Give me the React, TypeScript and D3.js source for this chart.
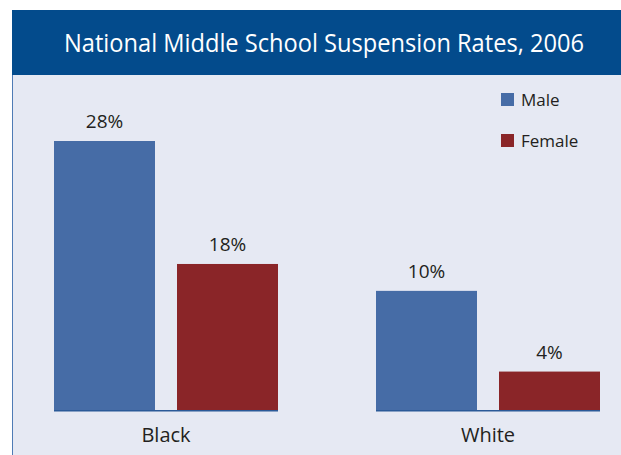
import React from "react";
import * as d3 from "d3";

const groups = ["Black", "White"];
const series = ["Male", "Female"];
// bar heights as drawn in the reference (percent)
const maleValues = [28, 12.4];
const femaleValues = [15.2, 4];
// printed labels
const maleLabels = ["28%", "10%"];
const femaleLabels = ["18%", "4%"];
const colors = ["#466ca6", "#8a2528"];
const title = "National Middle School Suspension Rates, 2006";

const W = 621;
const H = 455;

export default function App() {
  const font = "'Open Sans', 'Noto Sans', sans-serif";
  const x0 = d3.scaleBand<string>().domain(groups).range([54, 600]).paddingInner(98 / 322).paddingOuter(0);
  const x1 = d3.scaleBand<string>().domain(series).range([0, x0.bandwidth()]).paddingInner(22 / 123).paddingOuter(0);
  const y = d3.scaleLinear().domain([0, 28]).range([410, 141]);
  const color = d3.scaleOrdinal<string, string>().domain(series).range(colors);

  const rows = groups.map((g, i) => ({
    group: g,
    bars: [
      { s: "Male", v: maleValues[i], label: maleLabels[i] },
      { s: "Female", v: femaleValues[i], label: femaleLabels[i] },
    ],
  }));

  return (
    <svg width={W} height={H} style={{ position: "absolute", left: 0, top: 0 }} fontFamily={font}>
      <rect x={0} y={0} width={W} height={H} fill="#ffffff" />
      {/* panel */}
      <rect x={12} y={10} width={W - 12} height={H - 10} fill="#e6e9f3" />
      <line x1={12.5} y1={10} x2={12.5} y2={H} stroke="#4f7bb5" strokeWidth={1} />
      {/* header */}
      <rect x={12} y={10} width={W - 12} height={65} fill="#034b8c" />
      <text x={324} y={52} textAnchor="middle" fill="#ffffff" fontSize={25} textLength={520} lengthAdjust="spacingAndGlyphs">
        {title}
      </text>
      {/* bars */}
      {rows.map((r) => (
        <g key={r.group} transform={`translate(${x0(r.group)},0)`}>
          {r.bars.map((b) => (
            <g key={b.s}>
              <rect x={x1(b.s)} y={y(b.v)} width={x1.bandwidth()} height={y(0) - y(b.v)} fill={color(b.s)} />
              <text x={(x1(b.s) as number) + x1.bandwidth() / 2} y={y(b.v) - 13} textAnchor="middle" fontSize={19} fill="#231f20">
                {b.label}
              </text>
            </g>
          ))}
          <line x1={0} x2={x0.bandwidth()} y1={410.75} y2={410.75} stroke="#2b5a98" strokeWidth={1.5} />
          <text x={x0.bandwidth() / 2} y={442} textAnchor="middle" fontSize={20} fill="#231f20">
            {r.group}
          </text>
        </g>
      ))}
      {/* legend */}
      {series.map((s, i) => (
        <g key={s} transform={`translate(501,${93 + i * 41})`}>
          <rect x={0} y={0} width={13} height={13} fill={color(s)} />
          <text x={20} y={13} fontSize={17} fill="#231f20">
            {s}
          </text>
        </g>
      ))}
    </svg>
  );
}
